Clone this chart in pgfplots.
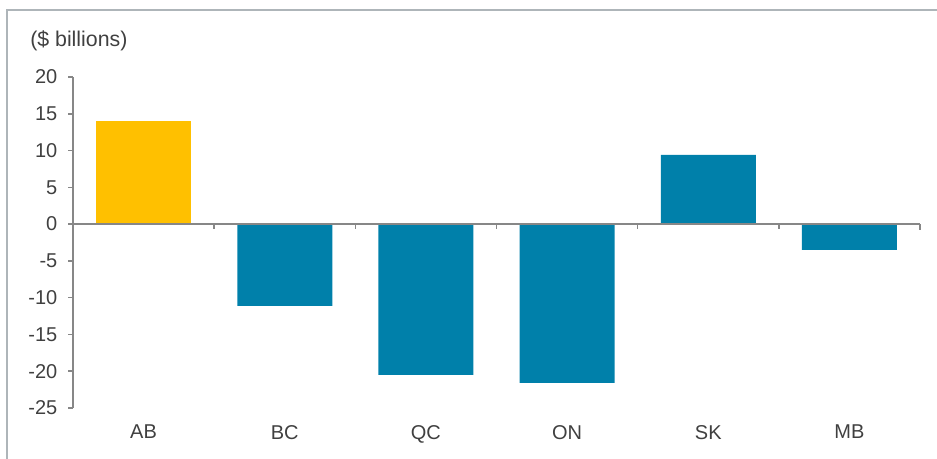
\documentclass[border=0pt]{standalone}
\usepackage{pgfplots}
\pgfplotsset{compat=1.18}
\usepackage{fontspec}
\setmainfont{Liberation Sans}
\definecolor{barblue}{HTML}{0080AA}
\definecolor{baryellow}{HTML}{FFC000}
\definecolor{axisgray}{HTML}{878787}
\definecolor{txtgray}{HTML}{404040}
\definecolor{framegray}{HTML}{AEB5B9}
\begin{document}
\begin{tikzpicture}[x=1pt,y=1pt]
\path[use as bounding box] (0,0) rectangle (702.75,344.25);
% outer frame (left and top only)
\draw[framegray, line width=1.5pt] (5.25,0) -- (5.25,336.75) -- (702.75,336.75);
\node[anchor=west, text=txtgray, font=\fontsize{16}{18}\selectfont, inner sep=0pt] at (22.5,313.5) {(\$ billions)};
\begin{axis}[
    at={(54.75pt,38.25pt)}, anchor=south west,
    scale only axis,
    width=635.25pt, height=248.25pt,
    xmin=-0.5, xmax=5.5,
    ymin=-25, ymax=20,
    axis x line*=bottom,
    axis y line*=left,
    x axis line style={draw=none},
    y axis line style={axisgray, line width=1.5pt},
    xtick={0,1,2,3,4,5},
    xticklabels={AB,BC,QC,ON,SK,MB},
    major x tick style={draw=none},
    ytick={-25,-20,...,20},
    tick align=outside,
    major tick length=3.75pt,
    major y tick style={axisgray, line width=1.1pt},
    ticklabel style={text=txtgray, font=\fontsize{15}{18}\selectfont},
    xticklabel style={yshift=-5.5pt},
    yticklabel style={xshift=-4.5pt},
    /pgf/number format/assume math mode=true,
    ybar, bar width=71.25pt, bar shift=0pt,
    clip=false,
]
\addplot[draw=none, fill=baryellow] coordinates {(0,14.0)};
\addplot[draw=none, fill=barblue] coordinates {(1,-11.1) (2,-20.5) (3,-21.6) (4,9.4) (5,-3.5)};
\draw[axisgray, line width=1.5pt] (axis cs:-0.5,0) -- (axis cs:5.5,0);
\draw[axisgray, line width=1.1pt]
  (axis cs:0.5,0) -- ++(0pt,-3.75pt)
  (axis cs:1.5,0) -- ++(0pt,-3.75pt)
  (axis cs:2.5,0) -- ++(0pt,-3.75pt)
  (axis cs:3.5,0) -- ++(0pt,-3.75pt)
  (axis cs:4.5,0) -- ++(0pt,-3.75pt)
  (axis cs:5.5,0) -- ++(0pt,-4.5pt);
\end{axis}
\end{tikzpicture}
\end{document}
